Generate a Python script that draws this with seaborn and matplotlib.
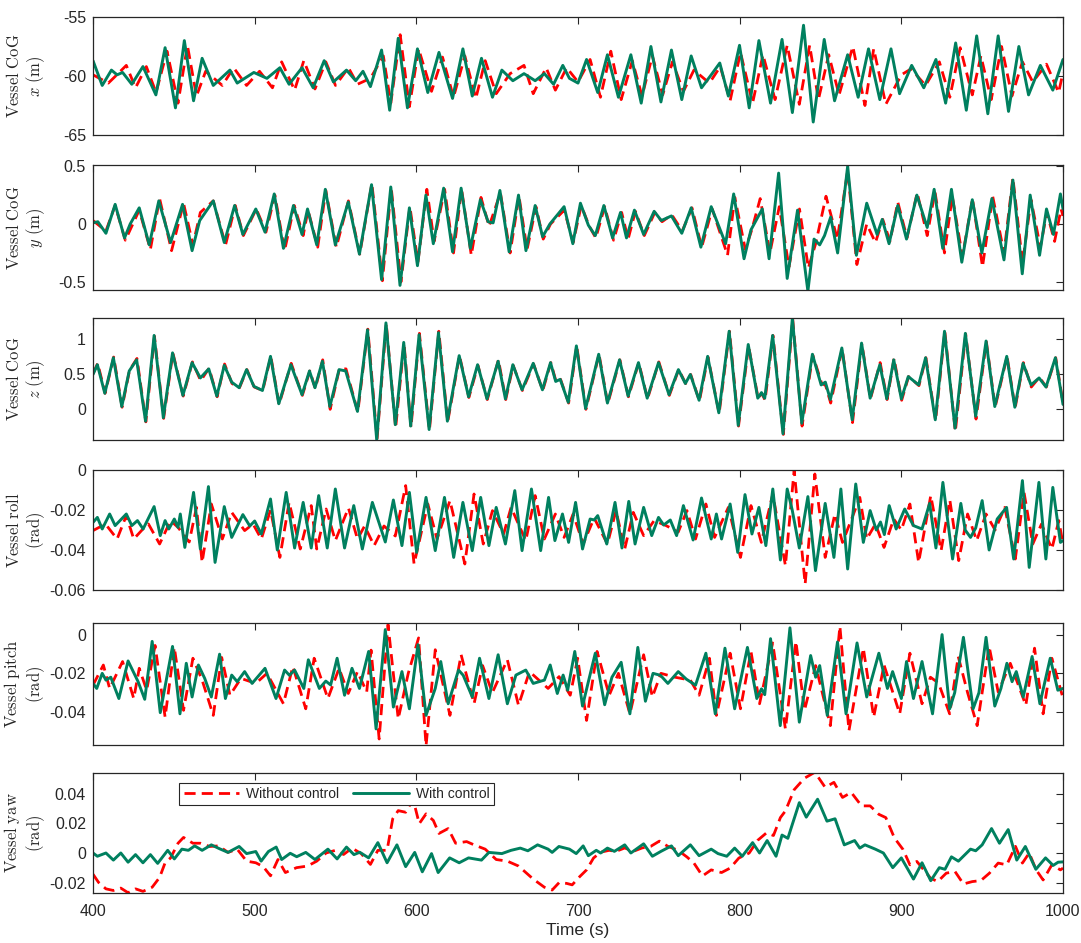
import matplotlib
matplotlib.use("Agg")
import pandas as pd
import matplotlib.pyplot as plt
import seaborn as sns

# ------------------------------
# Data (time s, value) at turning points
# ------------------------------
x_with = [(400, -58.7), (405.7, -60.8), (411.4, -59.5), (414.9, -59.9), (418.3, -59.7), (424, -60.7), (430.9, -59.2),
          (438.9, -61.6), (444.6, -57.6), (451, -62.7), (456.5, -57.0), (462.2, -62.1), (467.5, -58.5), (474.4, -60.8),
          (484.7, -59.5), (489.2, -60.6), (499.5, -59.7), (507.6, -60.2), (515.6, -59.3), (521.3, -60.7), (529.3, -59.3),
          (536.2, -61.0), (543, -58.7), (548.7, -60.5), (556.8, -59.5), (562.5, -60.4), (567, -59.6), (571.6, -60.9),
          (578.5, -57.8), (583.5, -62.9), (588.8, -56.8), (594.5, -62.7), (600.7, -57.7), (607.1, -61.4), (614, -58.0),
          (622.4, -61.9), (628.8, -57.7), (634.6, -61.7), (640.3, -58.5), (647.1, -61.8), (652.9, -59.5), (659.7, -60.4),
          (666.6, -59.8), (673.5, -60.4), (679.2, -59.8), (684.9, -60.7), (690.6, -59.1), (694.7, -60.2), (700, -60.6),
          (705.3, -58.6), (712.2, -61.4), (718.2, -58.2), (725, -61.8), (732.7, -58.2), (739.1, -62.3), (745.1, -57.5),
          (751.3, -62.2), (757.8, -57.8), (764.2, -62.0), (770, -58.3), (776.4, -61.0), (782.4, -59.9), (787.7, -58.9),
          (793, -61.7), (799.9, -57.4), (805.9, -62.7), (811.9, -57.0), (819.1, -62.3), (826.2, -56.9), (832.6, -63.1),
          (839.5, -55.7), (845.5, -63.9), (852.3, -56.9), (858.7, -62.1), (866.8, -58.2), (873.3, -61.8), (879.7, -57.7),
          (886.7, -62.0), (893.6, -57.7), (898.9, -61.5), (906.4, -59.1), (913.9, -61.0), (921.4, -58.6), (927.4, -62.3),
          (933.6, -57.2), (940.2, -62.9), (946.6, -56.6), (953.5, -63.2), (959.9, -56.6), (966.3, -63.0), (972.7, -57.5),
          (978.7, -61.6), (986, -59.1), (993.7, -61.2), (1000, -58.6)]
x_without = [(400, -59.9), (409.5, -60.6), (414, -60.0), (420.6, -59.1), (426.3, -61.0), (433, -59.2), (439, -61.4),
             (445.8, -57.9), (452.6, -62.3), (458.4, -57.4), (464, -61.7), (469.7, -59.6), (480, -60.8), (487, -59.3),
             (495, -60.8), (503, -59.6), (511, -61.0), (516.7, -58.8), (524.7, -61.2), (530.4, -58.7), (537.3, -61.1),
             (544, -58.8), (550, -60.8), (558, -59.3), (563.6, -60.7), (571.6, -60.2), (579.6, -58.3), (584.2, -62.3),
             (590, -56.5), (595.7, -62.6), (601.4, -57.7), (609.4, -61.3), (616.2, -58.4), (623, -61.8), (630, -58.3),
             (636.8, -61.9), (642.6, -58.7), (649.4, -61.5), (658, -59.8), (666.6, -59.1), (672.3, -61.5), (680.3, -59.3),
             (686, -61.2), (693, -59.3), (700, -60.5), (707.5, -58.6), (713.9, -61.8), (720.3, -57.9), (726.7, -62.0),
             (733.6, -58.7), (739.6, -61.7), (746, -58.3), (752.4, -61.6), (758.4, -58.8), (765.2, -61.3), (771.7, -59.5),
             (781.3, -60.6), (788, -59.2), (794.1, -62.1), (800.5, -58.0), (808, -62.3), (814.4, -58.2), (821.9, -62.0),
             (829.4, -57.4), (836.9, -62.4), (843.3, -57.4), (848.7, -62.0), (855.1, -58.2), (861.5, -61.6), (870, -57.5),
             (877.5, -62.5), (882.9, -57.7), (890.4, -62.4), (900, -59.9), (906, -59.4), (915, -60.8), (923.5, -58.8),
             (930, -61.8), (936.4, -57.6), (943.9, -61.6), (949.2, -58.3), (955.6, -62.0), (962, -57.5), (968.4, -61.7),
             (974.9, -58.8), (981.3, -60.5), (989.8, -59.0), (997.3, -61.4), (1000, -59.7)]

y_with = [(400, 0.01), (403, 0.02), (408, -0.08), (413.7, 0.17), (419.5, -0.12), (423, 0.0), (428.6, 0.14), (434.8, -0.18),
          (440.7, 0.20), (448, -0.16), (455.4, 0.17), (461.3, -0.23), (466, 0.03), (474.4, 0.20), (481.2, -0.16),
          (487.6, 0.16), (492.7, -0.09), (500.7, 0.13), (506.4, -0.07), (512.1, 0.26), (517.8, -0.21), (524, 0.16),
          (529.3, -0.09), (532.7, 0.13), (538.4, -0.18), (543.7, 0.30), (549.9, -0.18), (557.9, 0.19), (564.8, -0.26),
          (572.3, 0.34), (578.5, -0.48), (584.2, 0.32), (589.9, -0.53), (595.7, 0.14), (600.7, -0.36), (605.9, 0.25),
          (610.5, -0.17), (616.9, 0.31), (622.4, -0.24), (627.7, 0.31), (633.4, -0.21), (639.6, 0.21), (644.4, 0.02),
          (647.5, 0.01), (651.7, 0.29), (657.4, -0.24), (663.2, 0.25), (667.8, -0.23), (673.5, 0.16), (678.1, -0.11),
          (682.6, 0.0), (691.4, 0.15), (696.8, -0.17), (701.5, 0.18), (706.4, -0.01), (710.7, -0.10), (716, 0.16),
          (721.4, -0.12), (726.3, 0.10), (730, -0.12), (734.9, 0.12), (740.6, -0.09), (747.1, 0.11), (751.5, 0.03),
          (757.8, 0.07), (764.2, -0.08), (770, 0.14), (776, -0.20), (782.4, 0.15), (791.3, -0.17), (796.3, 0.26),
          (802.7, -0.30), (807, -0.05), (814, 0.13), (818.2, -0.30), (824.1, 0.44), (829.4, -0.47), (835.8, 0.12),
          (842.2, -0.58), (846, -0.13), (849.5, -0.18), (852.5, -0.10), (856.3, 0.06), (860.6, -0.25), (866.8, 0.50),
          (872.2, -0.27), (878.6, 0.18), (885, -0.09), (888.2, 0.04), (892.4, -0.17), (897.8, 0.16), (903.2, -0.13),
          (909.6, 0.25), (916, -0.03), (920.3, 0.30), (925.6, -0.21), (931, 0.30), (937.4, -0.33), (943.9, 0.21),
          (949.8, -0.25), (956, 0.22), (963.5, -0.31), (969, 0.38), (974.8, -0.43), (979.7, 0.25), (985.5, -0.27),
          (989.8, 0.13), (994.1, -0.09), (998.4, 0.26), (1000, 0.13)]
y_without = [(400, 0.03), (408, -0.06), (413.7, 0.16), (420, -0.14), (428.6, 0.12), (435.5, -0.22), (441.2, 0.22),
             (448.6, -0.23), (456, 0.18), (461.8, -0.18), (466.4, 0.10), (474.4, 0.20), (482, -0.18), (488, 0.16),
             (493, -0.10), (501, 0.13), (507, -0.07), (512.5, 0.25), (518.5, -0.23), (524.5, 0.16), (530, -0.10),
             (533, 0.12), (539, -0.20), (544, 0.29), (550.5, -0.20), (558, 0.20), (565, -0.26), (572.5, 0.35),
             (579, -0.49), (584.5, 0.31), (590.5, -0.50), (596, 0.15), (601, -0.33), (606.5, 0.30), (611, -0.15),
             (617.5, 0.30), (623, -0.25), (628, 0.30), (634, -0.27), (640, 0.23), (645, -0.02), (652, 0.27),
             (658, -0.25), (663.5, 0.24), (668.5, -0.22), (674, 0.15), (678.5, -0.13), (683, 0.0), (691.5, 0.12),
             (697, -0.16), (702, 0.16), (707, -0.02), (711, -0.12), (716.5, 0.15), (722, -0.14), (727, 0.10),
             (731, -0.13), (735.5, 0.11), (741, -0.10), (747.5, 0.10), (752, 0.02), (758, 0.08), (764.5, -0.06),
             (770.5, 0.14), (776.5, -0.20), (783, 0.13), (792.5, -0.27), (797, 0.23), (803.5, -0.22), (807.5, -0.05),
             (812.7, 0.22), (818.7, -0.25), (824.5, 0.15), (830.5, -0.37), (837, 0.13), (842.5, -0.38), (847, -0.17),
             (853.4, 0.24), (860.4, -0.13), (866.8, 0.46), (872.5, -0.35), (878.6, 0.0), (884, -0.16), (888.5, 0.04),
             (893, -0.15), (897.8, 0.19), (903.5, -0.12), (909.8, 0.27), (916, -0.10), (920.8, 0.28), (926.7, -0.25),
             (931.5, 0.24), (937.8, -0.28), (944, 0.22), (950.2, -0.37), (956.5, 0.24), (963.5, -0.25), (969, 0.40),
             (975, -0.34), (980.2, 0.21), (986, -0.20), (990, 0.10), (994.8, -0.15), (998.8, 0.13), (1000, 0.07)]

z_with = [(400, 0.49), (402.7, 0.63), (407.3, 0.22), (412.6, 0.73), (417.8, 0.03), (422.4, 0.54), (427, 0.70),
          (432.5, -0.18), (437.8, 1.05), (443.5, -0.13), (449.2, 0.80), (455.6, 0.19), (461.3, 0.66), (466.4, 0.44),
          (471.6, 0.57), (476.6, 0.18), (481.2, 0.62), (485.8, 0.38), (490.4, 0.30), (495, 0.56), (499.5, 0.32),
          (504.8, 0.26), (509.8, 0.75), (514.9, 0.07), (522.4, 0.63), (529.3, 0.20), (533.9, 0.54), (537.3, 0.30),
          (541.9, 0.68), (546.5, 0.03), (552.2, 0.56), (556.3, 0.54), (563.6, -0.04), (569.8, 1.13), (575.5, -0.45),
          (581.2, 1.23), (587, -0.23), (592.2, 0.95), (596.5, -0.25), (601.7, 1.06), (607.9, -0.30), (613.7, 1.09),
          (619.2, -0.18), (626.5, 0.76), (632.3, 0.17), (637.9, 0.63), (643.7, 0.14), (650.6, 0.68), (655.1, 0.14),
          (659.7, 0.63), (665.4, 0.27), (672.3, 0.65), (678, 0.27), (683, 0.66), (686.2, 0.39), (689, 0.42),
          (694, 0.09), (699, 0.90), (704.7, 0.00), (712.8, 0.78), (718.2, 0.08), (725.7, 0.70), (731, 0.18),
          (737.4, 0.66), (742.8, 0.15), (749.8, 0.66), (756.3, 0.20), (762.1, 0.56), (766.4, 0.36), (769.5, 0.49),
          (774.9, 0.12), (780.2, 0.75), (787.1, -0.06), (793.5, 1.11), (799.1, -0.24), (805.3, 0.92), (811.2, 0.15),
          (813.5, 0.23), (815.5, 0.15), (820.4, 1.05), (826.8, -0.36), (832.6, 1.30), (838.4, -0.21), (845, 0.78),
          (850.4, 0.34), (853, 0.38), (856.1, 0.13), (863.2, 0.87), (869.6, -0.16), (875.4, 0.94), (880.7, 0.15),
          (886.7, 0.63), (891, 0.14), (895.3, 0.70), (900, 0.14), (904.3, 0.46), (910.7, 0.34), (915, 0.73),
          (921, -0.16), (926.7, 1.11), (933.2, -0.28), (939.6, 1.08), (946, -0.11), (952.4, 0.97), (957.8, 0.03),
          (965.2, 0.75), (970.2, 0.02), (975.3, 0.65), (980.2, 0.34), (985.2, 0.44), (989.5, 0.31), (995.3, 0.73),
          (1000, 0.06)]
z_without = [(400, 0.50), (402.9, 0.65), (407.5, 0.22), (412.8, 0.74), (418, 0.02), (422.6, 0.55), (427.2, 0.72),
             (432.7, -0.19), (438, 1.04), (443.7, -0.14), (449.4, 0.80), (455.8, 0.18), (461.5, 0.67), (466.6, 0.40),
             (471.8, 0.58), (476.8, 0.17), (481.4, 0.64), (486, 0.36), (490.6, 0.30), (495.2, 0.56), (499.7, 0.31),
             (505, 0.26), (510, 0.75), (515.1, 0.06), (522.6, 0.65), (529.5, 0.19), (534.1, 0.54), (537.5, 0.29),
             (542.1, 0.70), (546.7, -0.01), (552.4, 0.57), (556.5, 0.57), (563.8, -0.05), (570, 1.14), (575.7, -0.44),
             (581.4, 1.22), (587.2, -0.28), (592.4, 0.94), (596.7, -0.27), (601.9, 1.08), (608.1, -0.31), (613.9, 1.11),
             (619.4, -0.19), (626.7, 0.76), (632.5, 0.16), (638.1, 0.62), (643.9, 0.13), (650.8, 0.70), (655.3, 0.13),
             (659.9, 0.62), (665.6, 0.26), (672.5, 0.64), (678.2, 0.26), (683.2, 0.66), (686.4, 0.39), (689.2, 0.42),
             (694.2, 0.08), (699.2, 0.90), (704.9, -0.01), (713, 0.78), (718.4, 0.07), (725.9, 0.70), (731.2, 0.17),
             (737.6, 0.66), (743, 0.14), (750, 0.67), (756.5, 0.19), (762.3, 0.56), (766.6, 0.36), (769.7, 0.49),
             (775.1, 0.11), (780.4, 0.74), (787.3, -0.07), (793.7, 1.11), (799.3, -0.25), (805.5, 0.90), (811.4, 0.15),
             (813.7, 0.22), (815.7, 0.12), (820.6, 1.05), (827, -0.37), (832.8, 1.29), (838.6, -0.25), (845.2, 0.77),
             (850.6, 0.37), (853.2, 0.33), (856.3, 0.08), (863.4, 0.86), (869.8, -0.20), (875.6, 0.93), (880.9, 0.14),
             (886.9, 0.66), (891.2, 0.13), (895.5, 0.72), (900.2, 0.12), (904.5, 0.46), (910.9, 0.33), (915.2, 0.73),
             (921.2, -0.17), (926.9, 1.11), (933.4, -0.33), (939.8, 1.07), (946.2, -0.15), (952.6, 0.96), (958, 0.02),
             (965.4, 0.75), (970.4, 0.01), (975.5, 0.66), (980.4, 0.31), (985.4, 0.45), (989.7, 0.31), (995.5, 0.73),
             (1000, 0.08)]

roll_with = [(400, -0.0262), (402.7, -0.0237), (405.7, -0.0295), (410.3, -0.0220), (413.7, -0.0278), (420.6, -0.0220),
             (424, -0.0278), (427.5, -0.0253), (431, -0.0295), (437.8, -0.0183), (441.6, -0.0328), (444.6, -0.0253),
             (446.9, -0.0295), (450.3, -0.0245), (452.6, -0.0287), (454, -0.0220), (456.8, -0.0387), (462.2, -0.0112),
             (466.4, -0.0395), (471.4, -0.0083), (475.5, -0.0462), (481.2, -0.0183), (485.8, -0.0337), (492.7, -0.0223),
             (497, -0.0280), (500, -0.0255), (504.1, -0.0320), (509.8, -0.0145), (514, -0.0400), (519.5, -0.0112),
             (524.7, -0.0390), (530, -0.0162), (535, -0.0390), (539.6, -0.0128), (544.9, -0.0390), (549.9, -0.0095),
             (555.6, -0.0390), (561.3, -0.0178), (566.6, -0.0395), (572.8, -0.0162), (580.8, -0.0360), (585.8, -0.0150),
             (591.1, -0.0378), (595.7, -0.0112), (600.2, -0.0412), (606, -0.0137), (611.7, -0.0403), (617.4, -0.0137),
             (623.1, -0.0437), (628.8, -0.0162), (634.6, -0.0403), (639.8, -0.0137), (644.9, -0.0378), (649.4, -0.0187),
             (655.1, -0.0370), (660.9, -0.0103), (665.4, -0.0403), (671.2, -0.0095), (676.9, -0.0403), (681.8, -0.0137),
             (685.7, -0.0353), (690.4, -0.0220), (694.2, -0.0362), (698.5, -0.0162), (702.8, -0.0395), (707.5, -0.0245),
             (710, -0.0250), (712.2, -0.0228), (717.8, -0.0370), (722.9, -0.0162), (727.2, -0.0390), (731.4, -0.0157),
             (735.3, -0.0370), (740.6, -0.0187), (745.6, -0.0328), (749.8, -0.0237), (753, -0.0275), (757.1, -0.0250),
             (761, -0.0328), (765.2, -0.0178), (771.2, -0.0350), (776.4, -0.0140), (782.4, -0.0345), (785.6, -0.0220),
             (788.8, -0.0345), (794.1, -0.0170), (798.8, -0.0412), (803.3, -0.0123), (807.6, -0.0320), (811.9, -0.0187),
             (816.2, -0.0378), (820.5, -0.0095), (825.2, -0.0450), (829.4, -0.0095), (832.5, -0.0200), (836.9, -0.0390),
             (842.2, -0.0133), (846.9, -0.0503), (852.9, -0.0167), (858.3, -0.0437), (862.6, -0.0095), (866.8, -0.0495),
             (871.8, -0.0070), (876.5, -0.0362), (880.7, -0.0203), (884.5, -0.0300), (887.1, -0.0260), (889.5, -0.0323),
             (892.5, -0.0178), (896.8, -0.0295), (902.1, -0.0195), (907.5, -0.0278), (912.8, -0.0295), (917.5, -0.0167),
             (921.4, -0.0390), (925.7, -0.0062), (931.7, -0.0445), (936.8, -0.0167), (939.5, -0.0300), (942.8, -0.0337),
             (946, -0.0290), (950, -0.0153), (954.3, -0.0400), (959.3, -0.0245), (965.1, -0.0187), (969.5, -0.0445),
             (974.9, -0.0053), (979.1, -0.0487), (985.1, -0.0062), (989.4, -0.0445), (993.7, -0.0087), (998.4, -0.0362),
             (1000, -0.0353)]
roll_without = [(400, -0.0303), (407.7, -0.0270), (414.9, -0.0345), (420.6, -0.0228), (425.2, -0.0345), (430.9, -0.0295),
                (434.3, -0.0270), (441.2, -0.0370), (448, -0.0253), (452.6, -0.0287), (459.5, -0.0360), (464, -0.0187),
                (467.5, -0.0462), (473.2, -0.0170), (480, -0.0345), (485.8, -0.0212), (493.8, -0.0303), (499, -0.0270),
                (504.1, -0.0345), (509.8, -0.0200), (515.6, -0.0437), (521.3, -0.0162), (528.2, -0.0395), (535, -0.0178),
                (538.4, -0.0395), (544.2, -0.0195), (549.9, -0.0353), (558, -0.0190), (563.6, -0.0345), (568, -0.0280),
                (573.9, -0.0378), (580, -0.0280), (587, -0.0330), (593.4, -0.0078), (598.6, -0.0470), (607.1, -0.0170),
                (612.8, -0.0345), (620.8, -0.0153), (630, -0.0470), (635.7, -0.0120), (641.4, -0.0370), (647.1, -0.0203),
                (654, -0.0320), (658.6, -0.0187), (667.7, -0.0353), (673.5, -0.0128), (679.2, -0.0345), (686, -0.0220),
                (691.4, -0.0337), (697, -0.0220), (703.2, -0.0370), (710, -0.0240), (718.2, -0.0370), (723.5, -0.0203),
                (728.9, -0.0395), (734.2, -0.0212), (740.6, -0.0328), (747.1, -0.0253), (754.5, -0.0278), (762, -0.0310),
                (767.4, -0.0203), (772.7, -0.0345), (779.1, -0.0170), (784.5, -0.0337), (793, -0.0187), (800.5, -0.0437),
                (807, -0.0178), (813.4, -0.0362), (820.5, -0.0120), (828.3, -0.0478), (833.7, 0.0), (840.5, -0.0570),
                (846.5, -0.0020), (852.9, -0.0437), (858.9, -0.0220), (863.6, -0.0362), (869, -0.0250), (874.3, -0.0137),
                (878.6, -0.0345), (884, -0.0270), (889.3, -0.0387), (895.3, -0.0245), (900, -0.0300), (905.3, -0.0170),
                (910.7, -0.0462), (918.2, -0.0128), (924.6, -0.0403), (930, -0.0150), (935.5, -0.0453), (941, -0.0220),
                (946.6, -0.0353), (952.4, -0.0220), (958, -0.0300), (964, -0.0187), (970.5, -0.0445), (975.9, -0.0112),
                (981.3, -0.0370), (986.7, -0.0270), (993.1, -0.0395), (997.4, -0.0253), (1000, -0.0370)]

pitch_with = [(400, -0.0252), (402.3, -0.0278), (405.7, -0.0200), (408, -0.0235), (411, -0.0220), (416, -0.0330),
              (421.7, -0.0136), (427.9, -0.0243), (432, -0.0334), (436.6, -0.0035), (441.6, -0.0403), (449.2, -0.0061),
              (453.8, -0.0409), (457.7, -0.0148), (461.3, -0.0322), (465.2, -0.0157), (469.1, -0.0226), (473.2, -0.0322),
              (478.3, -0.0101), (481.9, -0.0330), (485.8, -0.0209), (489.2, -0.0243), (493.8, -0.0191), (498.4, -0.0252),
              (506.4, -0.0174), (513.2, -0.0330), (518.5, -0.0183), (521.5, -0.0210), (524.7, -0.0183), (530.4, -0.0278),
              (533.2, -0.0130), (540, -0.0278), (544, -0.0240), (547, -0.0260), (551, -0.0122), (555.6, -0.0313),
              (560.2, -0.0174), (564.8, -0.0278), (570.5, -0.0087), (575.1, -0.0487), (580.8, 0.0026), (585.8, -0.0374),
              (591.1, -0.0191), (595.7, -0.0383), (601, -0.0052), (606, -0.0417), (611.7, -0.0278), (615.1, -0.0139),
              (619.7, -0.0357), (626.1, -0.0183), (629, -0.0210), (634.6, -0.0322), (639.1, -0.0122), (644.9, -0.0330),
              (650.6, -0.0104), (656.3, -0.0357), (661.6, -0.0209), (667.7, -0.0183), (672.3, -0.0252), (679.2, -0.0235),
              (682.8, -0.0157), (687.2, -0.0304), (690.8, -0.0209), (693.6, -0.0287), (698, -0.0087), (702.8, -0.0369),
              (706.5, -0.0240), (710.7, -0.0096), (716.5, -0.0362), (721, -0.0220), (726.7, -0.0143), (732.1, -0.0409),
              (737, -0.0066), (741.7, -0.0344), (746.4, -0.0200), (751, -0.0210), (755.6, -0.0252), (762, -0.0191),
              (767, -0.0230), (772.7, -0.0261), (779.1, -0.0096), (784.9, -0.0409), (790.9, -0.0070), (796.9, -0.0383),
              (804.8, -0.0066), (810.6, -0.0330), (813.5, -0.0280), (815.5, -0.0310), (819.1, -0.0021), (825.1, -0.0470),
              (831.1, 0.0035), (836.9, -0.0452), (843.9, -0.0108), (847, -0.0220), (849.5, -0.0160), (854.2, -0.0417),
              (860.5, -0.0038), (865.8, -0.0409), (872.6, -0.0043), (878.6, -0.0322), (886.1, -0.0096), (891.4, -0.0278),
              (894.6, -0.0191), (900, -0.0330), (903.2, -0.0139), (907.5, -0.0330), (912.8, -0.0139), (919.3, -0.0409),
              (925.2, 0.0), (929.9, -0.0383), (933, -0.0300), (938.4, -0.0014), (944.4, -0.0383), (948, -0.0300),
              (952.4, -0.0014), (957.8, -0.0369), (961.6, -0.0278), (965.3, -0.0148), (968.5, -0.0243), (971.1, -0.0191),
              (975.4, -0.0322), (980.9, -0.0113), (985.7, -0.0357), (992.1, -0.0122), (996.8, -0.0287), (1000, -0.0278)]
pitch_without = [(400, -0.0261), (406.4, -0.0157), (410.3, -0.0278), (418.3, -0.0139), (425.2, -0.0330), (428.6, -0.0174),
                 (433.2, -0.0287), (438.4, -0.0056), (444.6, -0.0426), (450.3, -0.0066), (456, -0.0391), (461.8, -0.0122),
                 (467.5, -0.0235), (474.4, -0.0417), (479.6, -0.0118), (484.7, -0.0313), (491.5, -0.0226), (500.7, -0.0252),
                 (507.6, -0.0200), (517.8, -0.0357), (523.6, -0.0165), (531.6, -0.0383), (536.8, -0.0122), (545.3, -0.0330),
                 (552.2, -0.0174), (557.9, -0.0304), (563.6, -0.0191), (569.3, -0.0296), (572, -0.0080), (577, -0.0539),
                 (582.5, 0.0052), (588.8, -0.0435), (595, -0.0200), (601.4, -0.0017), (606, -0.0574), (611.7, -0.0078),
                 (620.8, -0.0417), (627.7, -0.0104), (635.7, -0.0357), (641, -0.0160), (647, -0.0300), (656.3, -0.0130),
                 (663.2, -0.0365), (670, -0.0191), (681.5, -0.0278), (688.3, -0.0217), (695.2, -0.0313), (699.8, -0.0122),
                 (705.3, -0.0443), (711.8, -0.0087), (719.3, -0.0313), (725, -0.0200), (732.1, -0.0409), (740.6, -0.0104),
                 (746, -0.0322), (751.3, -0.0200), (760, -0.0220), (769.5, -0.0235), (774.9, -0.0313), (781.3, -0.0122),
                 (785.6, -0.0417), (794.1, -0.0096), (800.5, -0.0383), (807, -0.0087), (812.3, -0.0357), (820.4, -0.0043),
                 (828.3, -0.0487), (834.8, -0.0035), (840.1, -0.0391), (847, -0.0160), (856.1, -0.0470), (862, 0.0043),
                 (867.6, -0.0496), (876.5, -0.0070), (882.9, -0.0426), (889.3, -0.0157), (899, -0.0409), (905.3, -0.0096),
                 (912.8, -0.0357), (918, -0.0220), (923, -0.0250), (929.9, -0.0409), (935.2, -0.0113), (941, -0.0300),
                 (946.9, -0.0470), (954.3, -0.0061), (959.9, -0.0296), (967.4, -0.0148), (977, -0.0365), (982.4, -0.0070),
                 (987.7, -0.0409), (993.1, -0.0122), (999.5, -0.0313)]

yaw_with = [(400, 0.0), (402.7, -0.0022), (408, 0.0), (412.6, -0.0048), (417.2, 0.0), (421.7, -0.0062), (426.3, -0.0011),
            (430.9, -0.0066), (435.5, -0.0011), (440, -0.0070), (446.2, 0.0018), (450.3, -0.0040), (455, 0.0026),
            (459, 0.0018), (462.9, 0.0048), (467.5, 0.0018), (473.2, 0.0055), (478, 0.0030), (483.5, 0.0004),
            (490.4, 0.0044), (495, -0.0004), (500.7, 0.0010), (504, -0.0055), (508.5, 0.0010), (513.3, 0.0040),
            (516.7, -0.0044), (522, -0.0002), (526, -0.0025), (531.6, 0.0004), (537.3, -0.0044), (545.3, 0.0026),
            (551, -0.0040), (556.8, 0.0040), (561.4, -0.0011), (565, 0.0005), (570.5, -0.0033), (576.2, 0.0070),
            (581.9, -0.0066), (588, 0.0055), (593.4, -0.0092), (599, 0.0004), (603.7, -0.0127), (609.4, -0.0004),
            (613.5, -0.0132), (620.6, -0.0033), (626.5, -0.0066), (632.3, -0.0033), (640.3, -0.0048), (644.9, 0.0004),
            (652.9, -0.0004), (658.6, 0.0018), (664.3, 0.0033), (669, 0.0015), (675, 0.0055), (681.5, 0.0026),
            (684, 0.0004), (688.2, 0.0044), (694.7, 0.0026), (698.9, -0.0004), (703.2, 0.0048), (706.4, -0.0018),
            (711.3, 0.0018), (714, 0.0), (718.2, 0.0033), (722.5, 0.0011), (728.9, 0.0055), (732.7, 0.0),
            (740.6, 0.0062), (746, -0.0022), (751.3, 0.0011), (757.8, 0.0048), (762, -0.0018), (769.5, 0.0055),
            (774.9, -0.0018), (782.4, 0.0026), (786.6, -0.0004), (792, -0.0022), (796.9, 0.0033), (801.6, -0.0022),
            (808, 0.0070), (812.3, 0.0), (817, 0.0084), (822.5, -0.0022), (826.2, 0.0121), (829.8, 0.0099),
            (836.9, 0.0340), (841.2, 0.0242), (848.2, 0.0363), (854, 0.0215), (859, 0.0231), (864.7, 0.0055),
            (871.1, 0.0084), (874.3, 0.0033), (877.5, 0.0055), (883.9, 0.0026), (888.9, 0.0), (894.7, -0.0099),
            (900, -0.0033), (907.5, -0.0176), (912.8, -0.0066), (918.2, -0.0187), (923.5, -0.0099), (927, -0.0110),
            (931, -0.0026), (935.3, -0.0055), (942.8, 0.0026), (946, 0.0015), (950, 0.0055), (955.8, 0.0165),
            (960.7, 0.0066), (966.1, 0.0158), (971.4, -0.0048), (976.7, 0.0044), (983.2, -0.0110), (989.2, -0.0033),
            (993.9, -0.0084), (997, -0.0062), (1000, -0.0060)]
yaw_without = [(400, -0.0143), (403.4, -0.0198), (408, -0.0242), (412.6, -0.0253), (417.2, -0.0237), (421.7, -0.0268),
               (426.3, -0.0242), (430.9, -0.0259), (436.6, -0.0231), (441.2, -0.0165), (444.6, -0.0066), (448, -0.0033),
               (452.6, 0.0066), (456, 0.0105), (461.8, 0.0066), (466.4, 0.0066), (472.1, 0.0044), (477.8, 0.0048),
               (483.5, 0.0004), (489.2, 0.0026), (495, -0.0055), (500.7, -0.0066), (505.3, -0.0092), (509.8, -0.0154),
               (514.4, -0.0044), (519, -0.0132), (525.9, -0.0099), (532.7, -0.0088), (538.4, -0.0055), (544.2, 0.0),
               (549.9, 0.0018), (555, -0.0010), (560.2, 0.0033), (565.9, -0.0004), (571.6, -0.0077), (576.2, 0.0018),
               (581.9, 0.0018), (585.4, 0.0231), (588.8, 0.0286), (593.4, 0.0275), (598, 0.0363), (601.8, 0.0198),
               (606, 0.0264), (610.5, 0.0220), (614, 0.0132), (619.7, 0.0165), (624.3, 0.0066), (631.1, 0.0077),
               (635.7, 0.0055), (642.6, 0.0026), (649.4, -0.0044), (656.3, -0.0055), (663.2, -0.0088), (672.3, -0.0176),
               (679.2, -0.0231), (684, -0.0250), (688.3, -0.0200), (692.9, -0.0205), (696.4, -0.0215), (701.1, -0.0159),
               (705.3, -0.0114), (709.6, -0.0034), (713.9, 0.0005), (719.3, 0.0018), (723.5, 0.0011), (728.9, 0.0034),
               (734.2, 0.0011), (739.6, 0.0034), (745, 0.0045), (750.3, 0.0080), (755.6, 0.0045), (761.9, 0.0018),
               (767.4, -0.0027), (771.7, -0.0068), (777, -0.0155), (782.4, -0.0114), (788.8, -0.0132), (794.1, -0.0102),
               (799.5, -0.0034), (805.9, 0.0), (811.2, 0.0086), (816.6, 0.0136), (820.9, 0.0118), (825.2, 0.0239),
               (828.3, 0.0284), (833.7, 0.0427), (840.1, 0.0505), (846.5, 0.0545), (852.9, 0.0443), (858.3, 0.0477),
               (863.6, 0.0375), (869, 0.0409), (875.4, 0.0318), (880.7, 0.0318), (886.1, 0.0261), (890.4, 0.0239),
               (895.7, 0.0102), (901.1, 0.0023), (905.3, -0.0080), (909.6, -0.0057), (918.1, -0.0170), (922.5, -0.0193),
               (927.8, -0.0136), (933.2, -0.0125), (938.4, -0.0209), (943.9, -0.0193), (949.2, -0.0186), (954.5, -0.0136),
               (959.9, -0.0068), (965.2, -0.0080), (970.6, 0.0045), (974.9, -0.0068), (979.1, 0.0), (983.4, -0.0114),
               (987.7, -0.0182), (993.1, -0.0080), (998.4, -0.0114), (1000, -0.0102)]

panel_labels = [r"$\mathrm{Vessel\ CoG}$" + "\n" + r"$x\ \mathrm{(m)}$",
                r"$\mathrm{Vessel\ CoG}$" + "\n" + r"$y\ \mathrm{(m)}$",
                r"$\mathrm{Vessel\ CoG}$" + "\n" + r"$z\ \mathrm{(m)}$",
                r"$\mathrm{Vessel\ roll}$" + "\n" + r"$\mathrm{(rad)}$",
                r"$\mathrm{Vessel\ pitch}$" + "\n" + r"$\mathrm{(rad)}$",
                r"$\mathrm{Vessel\ yaw}$" + "\n" + r"$\mathrm{(rad)}$"]
panel_ylims = [(-65, -55), (-0.57, 0.51), (-0.45, 1.3), (-0.06, 0.0), (-0.057, 0.006), (-0.027, 0.054)]
panel_yticks = [[-65, -60, -55], [-0.5, 0, 0.5], [0, 0.5, 1], [-0.06, -0.04, -0.02, 0],
                [-0.04, -0.02, 0], [-0.02, 0, 0.02, 0.04]]
panel_yticklabels = [["-65", "-60", "-55"], ["-0.5", "0", "0.5"], ["0", "0.5", "1"],
                     ["-0.06", "-0.04", "-0.02", "0"], ["-0.04", "-0.02", "0"], ["-0.02", "0", "0.02", "0.04"]]
time_ticks = [400, 500, 600, 700, 800, 900, 1000]

RED = "#FF0000"
GREEN = "#00805F"


# ------------------------------
# One panel: dashed red without control, solid green with control
# ------------------------------
def draw_panel(ax, without, with_ctrl, ylabel, ylim, yticks, yticklabels):
    df_a = pd.DataFrame(without, columns=["t", "v"])
    df_b = pd.DataFrame(with_ctrl, columns=["t", "v"])
    sns.lineplot(data=df_a, x="t", y="v", ax=ax, color=RED, linewidth=2.0,
                 estimator=None, sort=False, label="Without control")
    ax.lines[-1].set_dashes([4, 2.2])
    sns.lineplot(data=df_b, x="t", y="v", ax=ax, color=GREEN, linewidth=2.1,
                 estimator=None, sort=False, label="With control")
    for ln in ax.lines:
        ln.set_solid_joinstyle("round")
        ln.set_dash_joinstyle("round")
    if ax.get_legend() is not None:
        ax.get_legend().remove()

    ax.set_xlim(400, 1000)
    ax.set_ylim(*ylim)
    ax.set_xticks(time_ticks)
    ax.set_yticks(yticks)
    ax.set_yticklabels(yticklabels)
    ax.set_xlabel("")
    ax.set_ylabel(ylabel, fontsize=12, linespacing=1.2)
    ax.yaxis.set_label_coords(-0.047, 0.5)
    ax.tick_params(direction="in", length=5, width=0.8, top=True, right=True,
                   labelsize=11.5, colors="#262626")
    ax.tick_params(axis="y", pad=5)
    ax.tick_params(axis="x", pad=8)
    for sp in ax.spines.values():
        sp.set_color("#262626")
        sp.set_linewidth(0.9)


def main():
    sns.set_style("white")
    plt.rcParams["font.family"] = ["Liberation Sans", "DejaVu Sans"]
    plt.rcParams["mathtext.fontset"] = "cm"
    plt.rcParams["axes.unicode_minus"] = False

    fig = plt.figure(figsize=(10.81, 9.43), dpi=100)
    tops = [17, 165, 318, 470, 623, 773]
    bottoms = [135, 290, 440, 590, 745, 893]
    series = [(x_without, x_with), (y_without, y_with), (z_without, z_with),
              (roll_without, roll_with), (pitch_without, pitch_with), (yaw_without, yaw_with)]

    axes = []
    for i in range(6):
        rect = [93 / 1081, 1 - bottoms[i] / 943, 970 / 1081, (bottoms[i] - tops[i]) / 943]
        ax = fig.add_axes(rect)
        draw_panel(ax, series[i][0], series[i][1], panel_labels[i],
                   panel_ylims[i], panel_yticks[i], panel_yticklabels[i])
        if i < 5:
            ax.set_xticklabels([])
        axes.append(ax)

    axes[-1].set_xlabel("Time (s)", fontsize=12.5, labelpad=3)
    handles = axes[-1].get_lines()[:2]
    axes[-1].legend(handles, ["Without control", "With control"], ncol=2,
                    loc="upper left", bbox_to_anchor=(0.082, 0.975), fontsize=10,
                    frameon=True, fancybox=False, edgecolor="#262626", framealpha=1,
                    handlelength=4.0, columnspacing=1.0, borderpad=0.3, handletextpad=0.5)
    axes[-1].get_legend().get_frame().set_linewidth(0.8)

    fig.savefig("out.png", dpi=100)


if __name__ == "__main__":
    main()
